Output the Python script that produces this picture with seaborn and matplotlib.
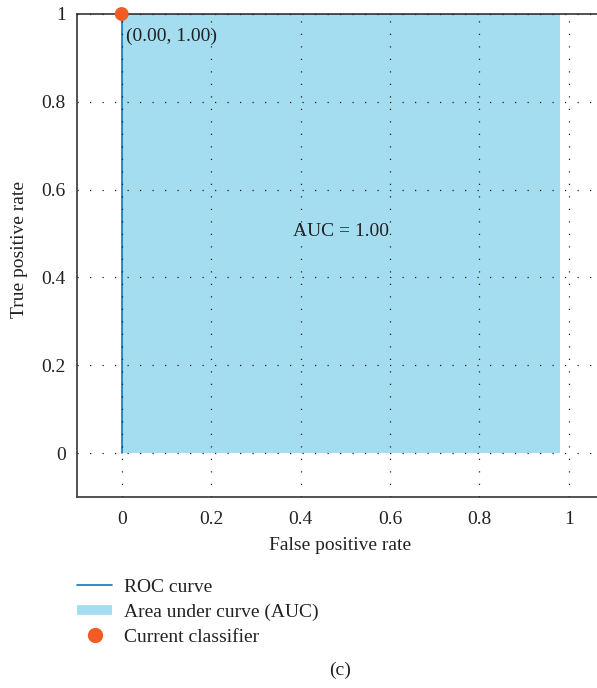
import numpy as np
import matplotlib
matplotlib.use("Agg")
import matplotlib.pyplot as plt
from matplotlib.lines import Line2D
import seaborn as sns

# ROC curve points (perfect classifier)
fpr = [0.0, 0.0, 0.98]
tpr = [0.0, 1.0, 1.0]
current_fpr = [0.0]
current_tpr = [1.0]
auc_value = 1.00
tick_vals = [0, 0.2, 0.4, 0.6, 0.8, 1]
tick_labels = ["0", "0.2", "0.4", "0.6", "0.8", "1"]

sns.set_style("white")
plt.rcParams['font.family'] = ['Liberation Serif', 'DejaVu Serif']

line_col = "#0a78c8"
fill_col = "#a4ddf0"
dot_col = "#f25c23"
txt_col = "#222222"
fs = 14

fig = plt.figure(figsize=(5.97, 6.88), dpi=100)
# axes run past the right edge of the figure like in the reference
W, H = 597, 688
left, right = 77, 77 + 447 * 1.2
top, bottom = 14, 497
ax = fig.add_axes([left / W, 1 - bottom / H, (right - left) / W, (bottom - top) / H])

ax.fill_between(fpr, tpr, 0, color=fill_col, lw=0, zorder=1)
sns.lineplot(x=fpr, y=tpr, ax=ax, color=line_col, lw=1.2, sort=False,
             estimator=None, zorder=2)
sns.scatterplot(x=current_fpr, y=current_tpr, ax=ax, color=dot_col, s=100,
                edgecolor="none", zorder=5, clip_on=False)

ax.set_xlim(-0.1, 1.1)
ax.set_ylim(-0.1, 1.0)
ax.set_xticks(tick_vals)
ax.set_xticklabels(tick_labels)
ax.set_yticks(tick_vals)
ax.set_yticklabels(tick_labels)
ax.tick_params(axis="x", length=0, labelsize=fs, colors=txt_col, pad=10)
ax.tick_params(axis="y", length=0, labelsize=fs, colors=txt_col, pad=8)
ax.grid(True, linestyle=(0, (1, 9)), color=txt_col, lw=0.9)
ax.set_axisbelow(False)
for sp in ["left", "bottom", "top"]:
    ax.spines[sp].set_color("#444444")
    ax.spines[sp].set_linewidth(1.3)
ax.spines["right"].set_visible(False)

ax.text(current_fpr[0] + 0.01, 0.95, "(%.2f, %.2f)" % (current_fpr[0], current_tpr[0]),
        fontsize=fs, color=txt_col, va="center", zorder=6)
ax.text(0.49, 0.505, "AUC = %.2f" % auc_value, fontsize=fs, color=txt_col,
        ha="center", va="center", zorder=6)

fig.text(340 / W, 1 - 545 / H, "False positive rate", fontsize=fs, color=txt_col,
         ha="center", va="center")
fig.text(20 / W, 1 - 250 / H, "True positive rate", fontsize=fs, color=txt_col,
         ha="center", va="center", rotation=90)

handles = [
    Line2D([], [], color=line_col, lw=1.2),
    Line2D([], [], color=fill_col, lw=7, solid_capstyle="butt"),
    Line2D([], [], color=dot_col, marker="o", ls="none", markersize=10),
]
labels = ["ROC curve", "Area under curve (AUC)", "Current classifier"]
fig.legend(handles, labels, loc="upper left", bbox_to_anchor=(77 / W, 1 - 578 / H),
           frameon=False, fontsize=fs, handlelength=1.8, handletextpad=0.6,
           labelspacing=0.38, borderpad=0, borderaxespad=0, labelcolor=txt_col)

fig.text(340 / W, 1 - 670 / H, "(c)", fontsize=fs, color=txt_col, ha="center", va="center")

fig.savefig("out.png", dpi=100)
